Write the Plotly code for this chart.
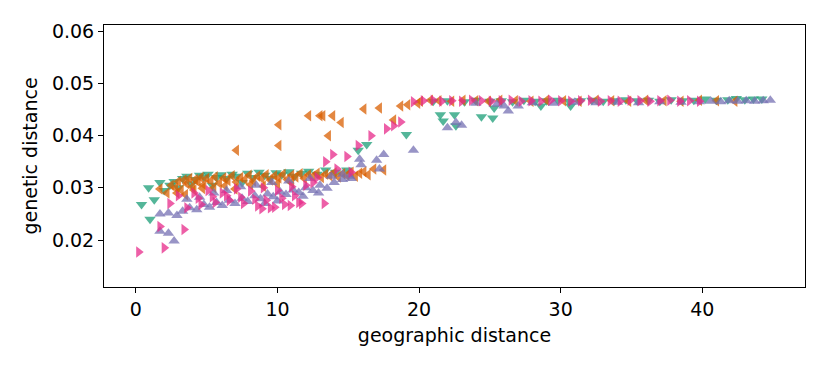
import plotly.graph_objects as go

# values (geographic distance, genetic distance)
green_x = [0.4, 0.9, 1.0, 1.3, 1.7, 2.0, 2.4, 2.7, 3.0, 3.3, 3.6, 3.9, 4.2, 4.5, 4.8, 5.1,
           5.4, 5.7, 6.0, 6.4, 6.8, 7.1, 7.5, 7.9, 8.3, 8.7, 9.1, 9.5, 9.9, 10.3, 10.8, 11.2,
           11.7, 12.2, 12.8, 13.4, 14.1, 14.9, 15.7, 16.3, 19.1, 21.5, 21.7, 22.5, 22.6, 24.4,
           25.2, 25.3, 28.6, 30.7,
           21.0, 22.0, 23.2, 24.0, 25.0, 25.8, 26.6, 27.4, 28.2, 29.0, 29.8, 30.6, 31.4, 32.2,
           33.0, 33.8, 34.6, 35.4, 36.2, 37.0, 37.8, 38.6, 39.4, 40.2, 41.0, 41.8, 42.4, 43.0,
           43.6, 44.2]
green_y = [0.0268, 0.0300, 0.0240, 0.0277, 0.0310, 0.0295, 0.0305, 0.0312, 0.0300, 0.0318, 0.0322, 0.0308,
           0.0316, 0.0324, 0.0321, 0.0326, 0.0305, 0.0320, 0.0325, 0.0318, 0.0326, 0.0322, 0.0310, 0.0328,
           0.0320, 0.0330, 0.0324, 0.0318, 0.0329, 0.0325, 0.0331, 0.0322, 0.0328, 0.0332, 0.0326, 0.0334,
           0.0330, 0.0334, 0.0372, 0.0383, 0.0402, 0.0440, 0.0428, 0.0440, 0.0419, 0.0436, 0.0434, 0.0453,
           0.0457, 0.0457,
           0.0466, 0.0467, 0.0465, 0.0468, 0.0466, 0.0467, 0.0465, 0.0468, 0.0466, 0.0467, 0.0468, 0.0466,
           0.0467, 0.0468, 0.0466, 0.0467, 0.0469, 0.0467, 0.0468, 0.0466, 0.0469, 0.0467, 0.0468, 0.0470,
           0.0468, 0.0469, 0.0471, 0.0469, 0.0470, 0.0470]

orange_x = [1.7, 2.2, 2.5, 2.8, 3.0, 3.2, 3.4, 3.6, 3.8, 4.0, 4.2, 4.4, 4.6, 4.8, 5.0, 5.3, 5.6,
            5.9, 6.2, 6.5, 6.8, 7.1, 7.4, 7.7, 8.0, 8.3, 8.6, 8.9, 9.2, 9.5, 9.8, 10.1, 10.4,
            10.7, 11.0, 11.3, 11.6, 11.9, 12.2, 12.5, 12.8, 13.1, 13.4, 13.7, 14.0, 14.3, 14.6,
            14.9, 15.2, 15.5, 15.8, 16.1, 16.4, 16.8, 17.5,
            2.9, 3.5, 4.1, 4.7, 5.5, 6.3, 7.0, 8.1, 9.0, 10.0, 11.0,
            7.1, 10.1, 10.1, 12.2, 13.0, 13.2, 13.9, 14.5, 13.6, 16.1, 17.2, 18.2, 18.7, 19.2,
            19.9, 20.1, 20.8,
            21.4, 22.3, 23.1, 24.0, 24.9, 25.7, 26.8, 27.9, 29.0, 30.2, 31.3, 32.5, 33.6,
            34.8, 36.0, 37.3, 38.5, 39.8, 41.0, 42.3]
orange_y = [0.0298, 0.0290, 0.0305, 0.0300, 0.0312, 0.0296, 0.0315, 0.0308, 0.0318, 0.0302, 0.0316, 0.0311,
            0.0320, 0.0306, 0.0318, 0.0313, 0.0321, 0.0309, 0.0319, 0.0314, 0.0323, 0.0311, 0.0320, 0.0316,
            0.0324, 0.0313, 0.0322, 0.0318, 0.0325, 0.0315, 0.0323, 0.0319, 0.0326, 0.0316, 0.0324, 0.0321,
            0.0327, 0.0318, 0.0325, 0.0322, 0.0328, 0.0320, 0.0326, 0.0323, 0.0329, 0.0321, 0.0327, 0.0324,
            0.0330, 0.0322, 0.0328, 0.0331, 0.0325, 0.0336, 0.0334,
            0.0290, 0.0287, 0.0296, 0.0299, 0.0300, 0.0304, 0.0298, 0.0306, 0.0303, 0.0308, 0.0310,
            0.0372, 0.0421, 0.0381, 0.0438, 0.0438, 0.0438, 0.0438, 0.0425, 0.0400, 0.0451, 0.0453, 0.0430,
            0.0457, 0.0459, 0.0462, 0.0466, 0.0468,
            0.0467, 0.0466, 0.0468, 0.0467, 0.0466, 0.0468, 0.0467, 0.0466, 0.0468, 0.0467, 0.0466, 0.0468,
            0.0467, 0.0466, 0.0468, 0.0467, 0.0466, 0.0468, 0.0467, 0.0466]

purple_x = [1.7, 2.3, 2.9, 1.7, 2.3, 2.7, 3.3, 3.8, 4.3, 4.8, 5.2, 5.7, 6.1, 6.6, 7.0, 7.5, 7.9,
            8.4, 8.8, 9.3, 9.7, 10.2, 10.6, 11.1, 11.5, 12.0, 12.5, 13.0, 13.5, 14.0, 14.6, 15.1,
            3.6, 4.5, 5.5, 6.4, 7.4, 8.5, 9.6, 10.8, 12.3, 13.8,
            9.1, 10.0, 11.8, 12.9, 15.2,
            15.8, 15.9, 17.0, 17.5, 17.2, 14.6, 19.6, 22.0, 22.6, 23.0, 26.0, 26.3, 27.0,
            24.0, 25.5, 28.0, 29.5, 31.0, 32.5, 34.0, 35.5, 37.0, 38.5, 39.8, 40.6, 41.3,
            41.9, 42.5, 43.1, 43.7, 44.3, 44.8]
purple_y = [0.0250, 0.0252, 0.0247, 0.0217, 0.0213, 0.0198, 0.0255, 0.0262, 0.0258, 0.0268, 0.0263, 0.0272,
            0.0266, 0.0276, 0.0270, 0.0280, 0.0274, 0.0285, 0.0279, 0.0288, 0.0283, 0.0292, 0.0287, 0.0296,
            0.0291, 0.0300, 0.0295, 0.0305, 0.0299, 0.0310, 0.0316, 0.0322,
            0.0278, 0.0282, 0.0290, 0.0295, 0.0302, 0.0305, 0.0310, 0.0313, 0.0318, 0.0322,
            0.0270, 0.0275, 0.0284, 0.0290, 0.0318,
            0.0355, 0.0344, 0.0353, 0.0364, 0.0336, 0.0326, 0.0372, 0.0415, 0.0425, 0.0420, 0.0457, 0.0447,
            0.0457,
            0.0462, 0.0460, 0.0463, 0.0462, 0.0464, 0.0463, 0.0464, 0.0463, 0.0465, 0.0464, 0.0465, 0.0466,
            0.0465, 0.0467, 0.0466, 0.0467, 0.0466, 0.0467, 0.0468]

pink_x = [0.2, 2.0, 1.7, 3.4, 2.4, 3.0, 3.6, 4.1, 4.6, 5.1, 5.6, 6.1, 6.6, 7.1, 7.6, 8.1, 8.6,
          9.0, 9.5, 10.0, 10.5, 11.0, 11.5, 12.0, 12.5, 4.4, 5.4, 6.4, 7.4, 8.4, 9.2, 10.3, 11.2,
          8.9, 9.8, 10.9, 11.7,
          13.3, 13.4, 13.9, 14.2, 14.9, 15.7, 16.6, 17.7, 18.2, 18.7, 12.8, 15.2,
          19.6, 20.3, 21.0, 21.6, 22.3, 23.0, 23.7, 24.4, 25.1, 25.8, 26.5, 27.2, 27.9, 28.6,
          29.3, 30.0, 30.7, 31.4, 32.1, 32.8, 33.5, 34.2, 34.9, 35.6, 36.3, 37.0, 37.7, 38.4,
          39.1, 39.8]
pink_y = [0.0177, 0.0185, 0.0226, 0.0220, 0.0270, 0.0285, 0.0262, 0.0290, 0.0268, 0.0295, 0.0272, 0.0290,
          0.0276, 0.0298, 0.0270, 0.0294, 0.0265, 0.0300, 0.0262, 0.0295, 0.0268, 0.0302, 0.0272, 0.0305,
          0.0310, 0.0280, 0.0283, 0.0285, 0.0282, 0.0278, 0.0276, 0.0280, 0.0285,
          0.0260, 0.0263, 0.0266, 0.0270,
          0.0270, 0.0350, 0.0364, 0.0336, 0.0360, 0.0381, 0.0400, 0.0413, 0.0419, 0.0426, 0.0320, 0.0330,
          0.0465, 0.0467, 0.0468, 0.0466, 0.0467, 0.0466, 0.0468, 0.0467, 0.0466, 0.0467, 0.0468, 0.0466,
          0.0467, 0.0466, 0.0468, 0.0467, 0.0466, 0.0467, 0.0468, 0.0466, 0.0467, 0.0466, 0.0468, 0.0467,
          0.0466, 0.0467, 0.0468, 0.0466, 0.0467, 0.0466]

series = [
    (green_x, green_y, "#1b9e77", "triangle-down"),
    (orange_x, orange_y, "#d95f02", "triangle-left"),
    (purple_x, purple_y, "#7570b3", "triangle-up"),
    (pink_x, pink_y, "#e7298a", "triangle-right"),
]

fig = go.Figure()
for xs, ys, col, sym in series:
    fig.add_trace(go.Scatter(x=xs, y=ys, mode="markers",
                             marker=dict(symbol=sym, size=10, color=col, opacity=0.75, line=dict(width=0)),
                             showlegend=False))

fnt = dict(family="DejaVu Sans", size=19, color="black")
axis_style = dict(showline=True, linecolor="black", linewidth=1, mirror=True, ticks="outside",
                  ticklen=5, tickcolor="black", showgrid=False, zeroline=False, tickfont=fnt)

fig.update_xaxes(range=[-2.25, 47.25], tickvals=[0, 10, 20, 30, 40], title_text="geographic distance",
                 title_font=fnt, title_standoff=9, **axis_style)
fig.update_yaxes(range=[0.011, 0.0612], tickvals=[0.02, 0.03, 0.04, 0.05, 0.06], tickformat=".2f",
                 title_text="genetic distance", title_font=fnt, title_standoff=9, **axis_style)

# page body adds an 8px margin, so the figure is a bit smaller than the window
fig.update_layout(width=822, height=361, margin=dict(l=96, r=25, t=13, b=82),
                  plot_bgcolor="white", paper_bgcolor="white")

fig.write_html("out.html")
